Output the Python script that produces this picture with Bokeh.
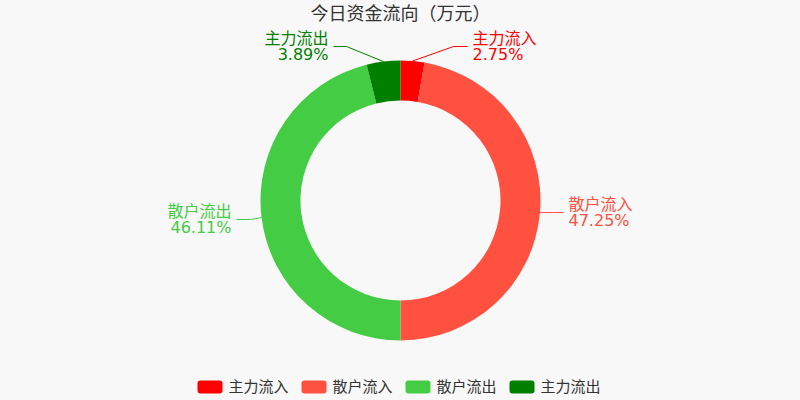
import math
from bokeh.plotting import figure
from bokeh.models import Range1d, ColumnDataSource
from bokeh.core.properties import value
from bokeh.embed import file_html
from bokeh.resources import INLINE

# ---- data ----
title = "今日资金流向（万元）"
categories = ["主力流入", "散户流入", "散户流出", "主力流出"]
percents = [2.75, 47.25, 46.11, 3.89]
colors = ["#ff0000", "#ff5040", "#44cc44", "#007f00"]

# ---- layout / style ----
BG = "#f8f8f8"
W, H = 800, 400
FONT = value("DejaVu Sans, Noto Sans CJK SC")
CX, CY = 400, 200          # screen coords of donut centre
R_IN, R_OUT = 100, 140
# leader-line elbow and end points (screen coords), per slice
elbows = [(453, 46), (553, 212), (250, 219), (346, 46)]
ends = [(467, 46), (563, 212), (236, 219), (333, 46)]


def sy(y):
    return 400 - y


p = figure(width=W, height=H, x_range=Range1d(0, 800), y_range=Range1d(0, 400),
           output_backend="svg", toolbar_location=None, min_border=0)
p.axis.visible = False
p.grid.visible = False
p.outline_line_color = None
p.background_fill_color = BG
p.border_fill_color = BG

total = sum(percents)
cum = 0.0
starts, stops, mids = [], [], []
for v in percents:
    a0 = cum / total
    cum += v
    a1 = cum / total
    starts.append(math.pi / 2 - 2 * math.pi * a1)
    stops.append(math.pi / 2 - 2 * math.pi * a0)
    mids.append((a0 + a1) / 2 * 2 * math.pi)

src = ColumnDataSource(dict(x=[CX] * len(percents), y=[sy(CY)] * len(percents),
                            start=starts, end=stops, color=colors))
p.annular_wedge(x="x", y="y", inner_radius=R_IN, outer_radius=R_OUT,
                start_angle="start", end_angle="end", fill_color="color",
                line_color=None, source=src)

# labels with leader lines
for i, (cat, v, col) in enumerate(zip(categories, percents, colors)):
    phi = mids[i]
    sx0 = CX + R_OUT * math.sin(phi)
    sy0 = CY - R_OUT * math.cos(phi)
    ex, ey = elbows[i]
    fx, fy = ends[i]
    p.line(x=[sx0, ex, fx], y=[sy(sy0), sy(ey), sy(fy)], line_color=col, line_width=1)
    if fx > CX:
        tx, align = fx + 5, "left"
    else:
        tx, align = fx - 5, "right"
    p.text(x=[tx, tx], y=[sy(fy - 8), sy(fy + 7.5)], text=[cat, f"{v:.2f}%"],
           text_align=align, text_baseline="middle", text_font=FONT,
           text_font_size="16px", text_color=col)

# title
p.text(x=[400], y=[sy(13)], text=[title], text_align="center", text_baseline="middle",
       text_font=FONT, text_font_size="18px", text_color="#333333")

# legend
LEG_X0, LEG_STEP, LEG_Y = 197, 104, 386.5
for i, (cat, col) in enumerate(zip(categories, colors)):
    lx = LEG_X0 + i * LEG_STEP
    p.quad(left=[lx], right=[lx + 25], top=[sy(LEG_Y - 6.5)], bottom=[sy(LEG_Y + 6.5)],
           fill_color=col, line_color=None, border_radius=3)
    p.text(x=[lx + 31], y=[sy(LEG_Y)], text=[cat], text_align="left", text_baseline="middle",
           text_font=FONT, text_font_size="15px", text_color="#333333")

html = file_html(p, INLINE)
html = html.replace("<head>", "<head><style>html,body{margin:0;padding:0;background:%s;overflow:hidden}</style>" % BG, 1)
open("out.html", "w").write(html)
